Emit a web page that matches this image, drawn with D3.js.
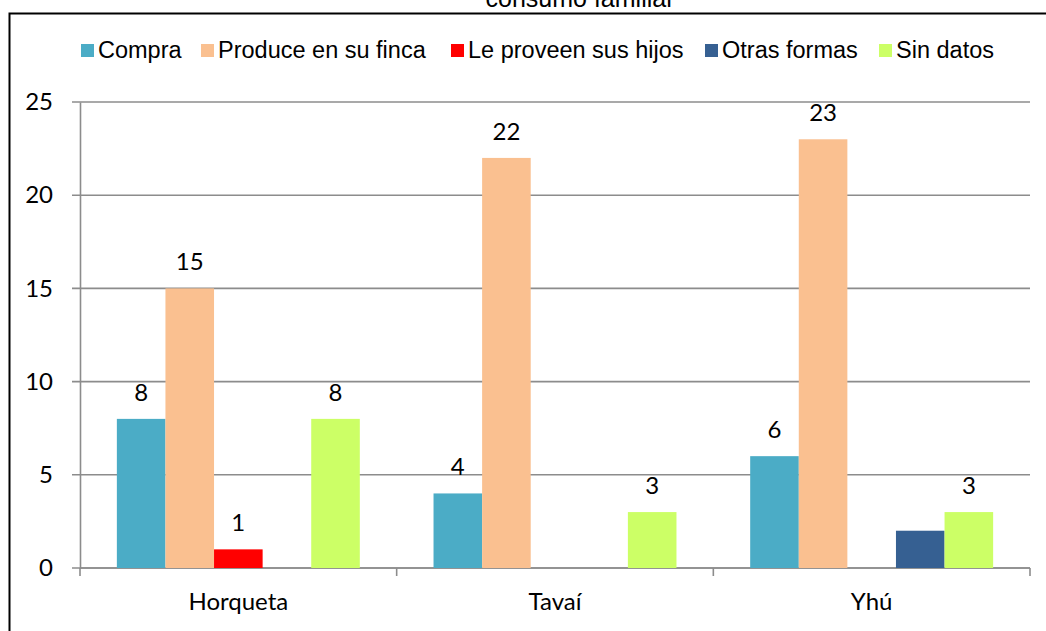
<!DOCTYPE html>
<html>
<head>
<meta charset="utf-8">
<script src="https://cdn.jsdelivr.net/npm/d3@7"></script>
<style>
  body { margin: 0; background: #fff; }
  svg { display: block; }
</style>
</head>
<body>
<div id="chart"></div>
<script>
// chart data
var categories = ["Horqueta", "Tavaí", "Yhú"];
var series = ["Compra", "Produce en su finca", "Le proveen sus hijos", "Otras formas", "Sin datos"];
var compra = [8, 4, 6];
var produce = [15, 22, 23];
var hijos = [1, 0, 0];
var otras = [0, 0, 2];
var sinDatos = [8, 3, 3];
// data labels as they appear (null = not shown)
var compraLabels = [8, 4, 6];
var produceLabels = [15, 22, 23];
var hijosLabels = [1, null, null];
var otrasLabels = [null, null, null];
var sinDatosLabels = [8, 3, 3];
var yTicks = [0, 5, 10, 15, 20, 25];
var colors = ["#4BACC6", "#FAC090", "#FF0000", "#366092", "#CCFF66"];

var svgWidth = 1046;
var svgHeight = 631;

var margin = { top: 102, right: 16, bottom: 63, left: 80 };
var width = svgWidth - margin.left - margin.right;
var height = svgHeight - margin.top - margin.bottom;

var values = [compra, produce, hijos, otras, sinDatos];
var labels = [compraLabels, produceLabels, hijosLabels, otrasLabels, sinDatosLabels];

var svg = d3.select("#chart")
    .append("svg")
    .attr("width", svgWidth)
    .attr("height", svgHeight);

// outer frame
svg.append("rect")
    .attr("x", 9.5)
    .attr("y", 13.5)
    .attr("width", 1100)
    .attr("height", 700)
    .attr("fill", "none")
    .attr("stroke", "#000")
    .attr("stroke-width", 2);

// title (its top is cut off by the page edge, as in the source)
svg.append("text")
    .attr("x", 580)
    .attr("y", 7)
    .attr("text-anchor", "middle")
    .attr("font-family", "Liberation Sans, Arial, sans-serif")
    .attr("font-size", "25px")
    .text("consumo familiar");

// legend
var legendX = [81, 201, 451, 705, 879];
var legend = svg.append("g").attr("font-family", "Liberation Sans, Arial, sans-serif");
series.forEach(function(s, i) {
    legend.append("rect")
        .attr("x", legendX[i])
        .attr("y", 44)
        .attr("width", 13)
        .attr("height", 13)
        .attr("fill", colors[i]);
    legend.append("text")
        .attr("x", legendX[i] + 17)
        .attr("y", 58)
        .attr("font-size", "23.5px")
        .attr("fill", "#000")
        .text(s);
});

var chartGroup = svg.append("g")
    .attr("transform", `translate(${margin.left}, ${margin.top})`);

var x0 = d3.scaleBand()
    .domain(categories)
    .range([0, width]);

var groupPad = x0.bandwidth() * 0.1164;
var x1 = d3.scaleBand()
    .domain(series)
    .range([groupPad, x0.bandwidth() - groupPad]);

var yScale = d3.scaleLinear()
    .domain([0, 25])
    .range([height, 0]);

// gridlines
chartGroup.append("g")
    .selectAll("line")
    .data(yTicks)
    .enter()
    .append("line")
    .attr("x1", -8)
    .attr("x2", width)
    .attr("y1", d => yScale(d))
    .attr("y2", d => yScale(d))
    .attr("stroke", "#8c8c8c")
    .attr("stroke-width", 1.6);

var labelFont = "Lato, Carlito, sans-serif";

// y axis
var leftAxis = d3.axisLeft(yScale).tickValues(yTicks).tickSize(0).tickPadding(27);
var yAxisG = chartGroup.append("g").call(leftAxis);
yAxisG.select(".domain").attr("stroke", "#8c8c8c").attr("stroke-width", 1.6);
yAxisG.selectAll("text")
    .attr("font-family", labelFont)
    .attr("font-size", "24px")
    .attr("fill", "#000");

// x axis
var bottomAxis = d3.axisBottom(x0).tickSize(0).tickPadding(25);
var xAxisG = chartGroup.append("g")
    .attr("transform", `translate(0, ${height})`)
    .call(bottomAxis);
xAxisG.select(".domain").remove();
xAxisG.append("line")
    .attr("x1", 0).attr("x2", width)
    .attr("stroke", "#8c8c8c").attr("stroke-width", 1.6);
xAxisG.selectAll(".sep")
    .data(d3.range(categories.length + 1))
    .enter()
    .append("line")
    .attr("class", "sep")
    .attr("x1", i => i * x0.step())
    .attr("x2", i => i * x0.step())
    .attr("y1", 0)
    .attr("y2", 8)
    .attr("stroke", "#8c8c8c")
    .attr("stroke-width", 1.6);
xAxisG.selectAll(".tick text")
    .attr("font-family", labelFont)
    .attr("font-size", "24px")
    .attr("fill", "#000");

// bars
var groups = chartGroup.selectAll(".cat")
    .data(categories)
    .enter()
    .append("g")
    .attr("class", "cat")
    .attr("transform", d => `translate(${x0(d)}, 0)`);

groups.each(function(cat, ci) {
    var g = d3.select(this);
    var rows = series.map(function(s, si) {
        return { s: s, v: values[si][ci], label: labels[si][ci], color: colors[si] };
    });
    g.selectAll("rect")
        .data(rows.filter(d => d.v > 0))
        .enter()
        .append("rect")
        .attr("x", d => x1(d.s))
        .attr("y", d => yScale(d.v))
        .attr("width", x1.bandwidth())
        .attr("height", d => height - yScale(d.v))
        .attr("fill", d => d.color);
    g.selectAll("text.lbl")
        .data(rows.filter(d => d.label !== null))
        .enter()
        .append("text")
        .attr("class", "lbl")
        .attr("x", d => x1(d.s) + x1.bandwidth() / 2)
        .attr("y", d => yScale(d.v) - 18)
        .attr("text-anchor", "middle")
        .attr("font-family", labelFont)
        .attr("font-size", "24px")
        .attr("fill", "#000")
        .text(d => d.label);
});
</script>
</body>
</html>
